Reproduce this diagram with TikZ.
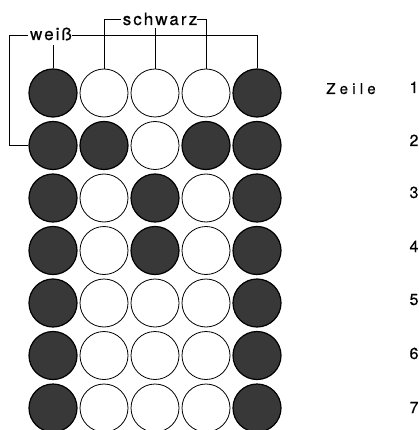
\documentclass[tikz,border=0pt]{standalone}
\usepackage{fontspec}
\setmainfont[FakeBold=0.4]{TeX Gyre Heros}
\newfontfamily\lsA[LetterSpace=12,FakeBold=0.6]{TeX Gyre Heros}
\newfontfamily\lsB[LetterSpace=28,FakeBold=0.4]{TeX Gyre Heros}
\begin{document}
\begin{tikzpicture}[x=1pt,y=-1pt,
  dot/.style={circle,draw=black,line width=0.8pt,minimum size=48pt,inner sep=0pt},
  blk/.style={dot,fill=black!78,line width=1.2pt},
  wht/.style={dot,fill=white},
  lbl/.style={inner sep=0pt,anchor=base},
  brk/.style={line width=0.9pt}]
\useasboundingbox (0,0) rectangle (419,430);
% pattern: 1 = black, 0 = white
\foreach \r/\pat in {1/{1,0,0,0,1},2/{1,1,0,1,1},3/{1,0,1,0,1},4/{1,0,1,0,1},5/{1,0,0,0,1},6/{1,0,0,0,1},7/{1,0,0,0,1}}{
  \foreach \b [count=\c] in \pat {
    \pgfmathsetmacro\xx{53+51*(\c-1)}
    \pgfmathsetmacro\yy{93+52.5*(\r-1)}
    \ifnum\b=1
      \node[blk] (c\r\c) at (\xx,\yy) {};
    \else
      \node[wht] (c\r\c) at (\xx,\yy) {};
    \fi
  }
}
% labels
\node[lbl,font=\lsA\fontsize{17}{17}\selectfont] (weiss) at (51,40) {weiß};
\node[lbl,font=\lsA\fontsize{17}{17}\selectfont] (schwarz) at (160,25) {schwarz};
\node[lbl,font=\lsB\fontsize{15}{15}\selectfont] (zeile) at (351,94) {Zeile};
\foreach \r/\yb in {1/93,2/146,3/198,4/252,5/305,6/359,7/413}
  \node[lbl,font=\fontsize{16}{16}\selectfont] (n\r) at (414,\yb) {\r};
% weiß bracket
\coordinate (wl) at (9,35);
\coordinate (wr) at (257,35);
\draw[brk] (c21.west) -| (wl) -- ([xshift=-2pt]weiss.west |- wl);
\draw[brk] (weiss.east |- wr) -- (wr) -- (c15.north);
\draw[brk] (c11.north) -- ++(0,-23);
% schwarz bracket
\coordinate (sl) at (104,19);
\coordinate (sr) at (206,19);
\draw[brk] (c12.north) -- (sl) -- ([xshift=-2pt]schwarz.west |- sl);
\draw[brk] (c14.north) -- (sr) -- (schwarz.east |- sr);
\draw[brk] (c13.north) -- ++(0,-41);
\end{tikzpicture}
\end{document}
